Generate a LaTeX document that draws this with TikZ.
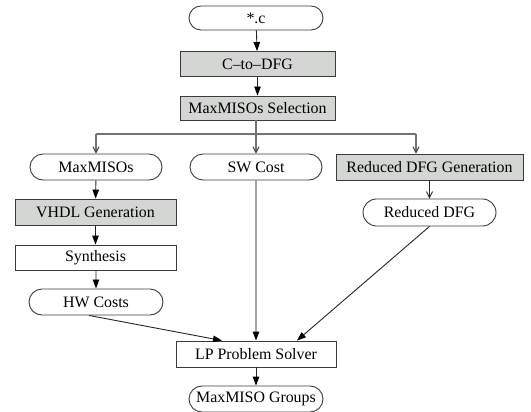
\documentclass[tikz,border=0pt]{standalone}
\usepackage{fontspec}
\setmainfont{Liberation Serif}
\usetikzlibrary{arrows.meta,shapes.misc}
\definecolor{boxgray}{RGB}{211,214,211}
\definecolor{edgegray}{RGB}{60,60,60}
\definecolor{linegray}{RGB}{115,115,115}
\begin{document}
\begin{tikzpicture}[x=1pt,y=-1pt,
  every node/.style={font=\fontsize{15.9}{18}\selectfont, inner sep=0pt, line width=0.9pt, draw=edgegray},
  pill/.style={rounded rectangle, minimum height=26pt},
  gbox/.style={rectangle, fill=boxgray, minimum height=25pt},
  wbox/.style={rectangle, fill=white, minimum height=25pt},
  flow/.style={line width=1.1pt, draw=linegray, -{Triangle[length=9pt,width=6.5pt,color=black]}},
  flowk/.style={line width=0.9pt, draw=black!85, -{Triangle[length=9pt,width=6.5pt,color=black]}},
  branch/.style={line width=1.1pt, draw=linegray, -{Straight Barb[length=6pt,width=6pt,line width=0.9pt,color=black!80]}},
  branchk/.style={line width=0.9pt, draw=black!85, -{Straight Barb[length=6pt,width=6pt,line width=0.9pt]}}]
\useasboundingbox (0,0) rectangle (531,412);
\node[pill, minimum width=134pt, minimum height=24pt] (cin) at (256,18) {*.c};
\node[gbox, minimum width=155pt] (c2d) at (257.5,64) {C--to--DFG};
\node[gbox, minimum width=155pt, minimum height=24pt] (sel) at (257.5,108) {MaxMISOs Selection};
\node[pill, minimum width=132pt] (mm) at (96,167) {MaxMISOs};
\node[pill, minimum width=132pt] (sw) at (256,167) {SW Cost};
\node[gbox, minimum width=187pt, minimum height=26pt] (rdg) at (429.5,167) {Reduced DFG Generation};
\node[pill, minimum width=133pt, minimum height=27pt] (rd) at (429.5,212.5) {Reduced DFG};
\node[gbox, minimum width=161pt, minimum height=26pt] (vhdl) at (95.5,212) {VHDL Generation};
\node[wbox, minimum width=161pt] (syn) at (95.5,257.5) {Synthesis};
\node[pill, minimum width=134pt] (hw) at (96,302) {HW Costs};
\node[wbox, minimum width=160pt, minimum height=26pt] (lp) at (256,354) {LP Problem Solver};
\node[pill, minimum width=134pt] (grp) at (256,399) {MaxMISO Groups};
\coordinate (bj) at (256,134);
\coordinate (bl) at (96,134);
\coordinate (br) at (416,134);
\draw[flowk] (cin) -- (c2d);
\draw[flowk] (c2d) -- (sel);
\draw[line width=1.1pt, draw=linegray] (sel.south -| bj) -- (bj);
\draw[line width=1.1pt, draw=linegray] (bl) -- (br);
\draw[branch] (bl) -- (mm.north);
\draw[branch] (bj) -- (sw.north);
\draw[branch] (br) -- (br |- rdg.north);
\draw[branchk] (rdg) -- (rd);
\draw[flowk] (mm) -- (vhdl);
\draw[flowk] (vhdl) -- (syn);
\draw[flowk] (syn.south -| hw) -- (hw);
\draw[flow] (sw) -- (lp);
\draw[flowk] ([xshift=-7pt]hw.south) -- ([xshift=-34pt]lp.north);
\draw[flowk] (rd.south) -- ([xshift=41pt]lp.north);
\draw[flowk] (lp) -- (grp);
\end{tikzpicture}
\end{document}
